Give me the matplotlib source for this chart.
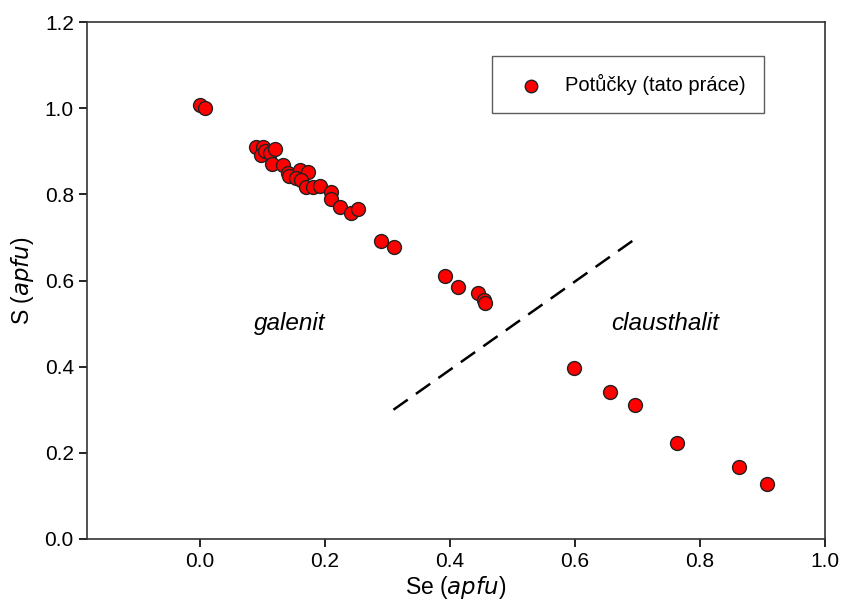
import matplotlib.pyplot as plt

plt.rcParams['font.family'] = ['Liberation Sans', 'DejaVu Sans']

# Se / S (apfu)
se = [0.000, 0.008, 0.090, 0.102, 0.098, 0.105, 0.112, 0.120, 0.116, 0.133,
      0.141, 0.143, 0.161, 0.174, 0.154, 0.162, 0.170, 0.181, 0.192, 0.210,
      0.210, 0.225, 0.242, 0.254, 0.290, 0.311, 0.392, 0.414, 0.445, 0.455,
      0.456, 0.599, 0.657, 0.696, 0.764, 0.862, 0.907]
s = [1.007, 1.001, 0.909, 0.910, 0.891, 0.900, 0.896, 0.905, 0.871, 0.867,
     0.850, 0.842, 0.856, 0.852, 0.839, 0.834, 0.817, 0.817, 0.819, 0.805,
     0.790, 0.770, 0.757, 0.765, 0.691, 0.677, 0.610, 0.584, 0.570, 0.555,
     0.547, 0.397, 0.342, 0.311, 0.223, 0.168, 0.127]

# hranice galenit / clausthalit
hranice_x = [0.31, 0.70]
hranice_y = [0.30, 0.70]

fig = plt.figure(figsize=(8.43, 6.10), dpi=100)
ax = fig.add_axes([0.1032, 0.1164, 0.8754, 0.8475])

ax.plot(hranice_x, hranice_y, color='black', linestyle=(0, (7, 4)), linewidth=1.8)
ax.scatter(se, s, s=100, color='#ff0000', edgecolors='#222222', linewidths=1.0,
           zorder=3, label='Potůčky (tato práce)')

ax.text(0.144, 0.50, 'galenit', style='italic', fontsize=17.5, ha='center', va='center')
ax.text(0.745, 0.50, 'clausthalit', style='italic', fontsize=17.5, ha='center', va='center')

ax.set_xlim(-0.18, 1.0)
ax.set_ylim(0.0, 1.2)
ax.set_xticks([0.0, 0.2, 0.4, 0.6, 0.8, 1.0])
ax.set_yticks([0.0, 0.2, 0.4, 0.6, 0.8, 1.0, 1.2])
ax.tick_params(direction='out', length=6, width=1.2, labelsize=15, top=False, right=False)
for sp in ax.spines.values():
    sp.set_linewidth(1.2)
    sp.set_color('#333333')

ax.set_xlabel('Se ($\\it{apfu}$)', fontsize=16.5, labelpad=2)
ax.set_ylabel('S ($\\it{apfu}$)', fontsize=16.5, labelpad=6)

leg = ax.legend(loc='upper right', bbox_to_anchor=(0.917, 0.934), fontsize=14.5,
                frameon=True, fancybox=False, edgecolor='#333333', borderpad=0.9,
                handletextpad=0.7, borderaxespad=0, markerscale=0.9)
leg.get_frame().set_linewidth(1.0)

fig.savefig('out.png', dpi=100)
